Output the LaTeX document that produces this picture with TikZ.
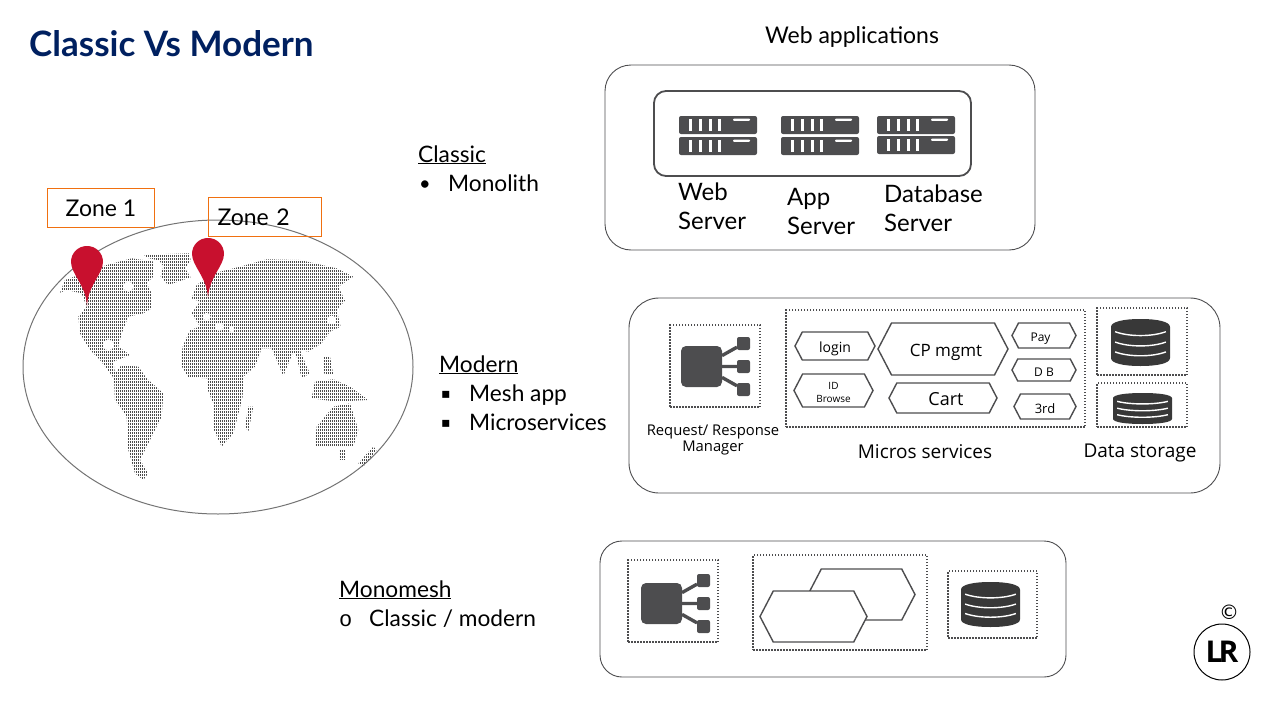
\documentclass[tikz,border=0pt]{standalone}
\usepackage{fontspec}
\setmainfont{Lato}
\newfontfamily\osfont{Open Sans}
\newfontfamily\dvfont{DejaVu Sans}
\newfontfamily\lmfont{Liberation Mono}
\usetikzlibrary{positioning,shapes.geometric,shapes.symbols}
\definecolor{navy}{HTML}{002060}
\definecolor{ink}{HTML}{4D4D4F}
\definecolor{zonec}{HTML}{F07010}
\definecolor{pinred}{HTML}{C8102E}
\newcommand{\sz}[1]{\fontsize{#1}{#1}\selectfont}
\tikzstyle{lbl}=[anchor=base west,inner sep=0pt,font=\sz{22.7}]
\tikzstyle{osl}=[inner sep=0pt,align=center,font=\osfont\sz{19}]
\tikzstyle{panel}=[draw=ink,line width=.9pt,rounded corners=26pt,anchor=north west,inner sep=0pt,outer sep=0pt]
\tikzstyle{dotbox}=[draw=ink,line width=1.5pt,dash pattern=on 1.5pt off 1.5pt,anchor=north west,inner sep=0pt,outer sep=0pt]
\tikzstyle{zonebox}=[draw=zonec,line width=1.2pt,anchor=north west,inner sep=0pt,outer sep=0pt,font=\sz{23}]
\tikzstyle{hexa}=[draw=ink,line width=1.4pt,fill=white,signal,signal to=east and west,signal pointer angle=125,inner sep=0pt,outer sep=0pt]
\tikzstyle{rack}=[fill=ink,rounded corners=2pt,anchor=north west,inner sep=0pt,outer sep=0pt,minimum width=78pt,minimum height=18pt]
\tikzstyle{meshbody}=[fill=ink,rounded corners=5pt,anchor=north west,inner sep=0pt,outer sep=0pt,minimum size=41pt]
\tikzstyle{meshleaf}=[fill=ink,rounded corners=2pt,inner sep=0pt,outer sep=0pt,minimum size=13pt]
\tikzstyle{mapdots}=[draw=black!70,line width=1.8pt,dash pattern=on 1.2pt off .8pt]
% size of a hexagon: name, text, centre, width, height, font size
\newcommand{\newHex}[6]{\node[hexa,minimum width=#4pt,minimum height=#5pt,font=\osfont\sz{#6},align=center,text height=.75em,text depth=0pt](#1) at (#3){\raisebox{-.22em}{#2}};}
\newcommand{\newRack}[3]{\node[rack](#1) at (#2,#3){};
  \foreach \s in {10,20,30,39}{\fill[white] ([shift={(\s pt,-3pt)}]#1.north west) rectangle ++(3,12);}
  \fill[white,rounded corners=1pt] ([shift={(54pt,-2.5pt)}]#1.north west) rectangle ++(17,2.4);}
\newcommand{\newMesh}[3]{\node[meshbody](#1b) at (#2,#3){};
  \node[meshleaf,right=21.5pt of #1b.east,yshift=23pt,anchor=center](#1t){};
  \node[meshleaf,right=21.5pt of #1b.east,anchor=center](#1m){};
  \node[meshleaf,right=21.5pt of #1b.east,yshift=-23pt,anchor=center](#1u){};
  \draw[ink,line width=3.4pt] (#1b.28) -- (#1t) (#1b.east) -- (#1m) (#1b.-28) -- (#1u);}
\newcommand{\newDisk}[4]{\begin{scope}[shift={(#1,#2)},x=#3pt,y=-#4pt]
  \fill[black!78] (0,.17) .. controls (0,.06) and (.2,0) .. (.5,0) .. controls (.8,0) and (1,.06) .. (1,.17)
    -- (1,.83) .. controls (1,.94) and (.8,1) .. (.5,1) .. controls (.2,1) and (0,.94) .. (0,.83) -- cycle;
  \foreach \d in {.27,.49,.7}{\draw[white,line width=1.4pt] (.07,\d) .. controls (.3,\d+.11) and (.7,\d+.11) .. (.93,\d);}
  \end{scope}}
\newcommand{\newPin}[2]{\fill[pinred,shift={(#1,#2)}] (0,44) .. controls (-1,23) and (-16,12) .. (-16,0)
  .. controls (-16,-9) and (-9,-16) .. (0,-16) .. controls (9,-16) and (16,-9) .. (16,0)
  .. controls (16,12) and (1,23) .. (0,44) -- cycle;}
\begin{document}
\begin{tikzpicture}[x=1pt,y=-1pt]
  \useasboundingbox (0,0) rectangle (1280,720);
  \node[anchor=base west,inner sep=0pt,font=\bfseries\sz{35},text=navy](title) at (29,56){Classic Vs Modern};
  % map
  \node[ellipse,draw=black!55,line width=1pt,minimum width=390pt,minimum height=294pt,inner sep=0pt](globe) at (218,367){};
  \begin{scope}[shift={(0,170)},x=.3333pt,y=-.3333pt,even odd rule]
    \clip
      (180,368) -- (195,330) -- (250,310) -- (320,285) -- (395,265) -- (462,275) -- (460,320) -- (440,340) -- (455,370)
        -- (455,415) -- (430,430) -- (385,440) -- (365,490) -- (355,530) -- (390,555) -- (340,575) -- (345,610)
        -- (365,585) -- (415,590) -- (440,625) -- (490,670) -- (485,740) -- (455,800) -- (420,870) -- (445,910) -- (430,930)
        -- (405,910) -- (385,840) -- (380,740) -- (345,690) -- (342,625) -- (300,570) -- (270,540) -- (240,490) -- (235,440)
        -- (260,410) -- (245,370) -- (200,360) -- cycle
      (385,350) circle[radius=16]
      (325,525) circle[radius=17]
      (432,254) -- (568,250) -- (572,272) -- (555,295) -- (572,322) -- (505,345) -- (482,320) -- (490,288) -- (478,272) -- (440,263) -- cycle
      (575,385) -- (590,345) -- (640,310) -- (720,290) -- (800,268) -- (900,270) -- (1010,295) -- (1060,320) -- (1015,350)
        -- (1035,392) -- (1010,420) -- (1022,470) -- (990,485) -- (965,520) -- (925,545) -- (900,540) -- (920,590) -- (930,610)
        -- (905,625) -- (890,560) -- (880,545) -- (850,618) -- (815,535) -- (785,535) -- (765,590) -- (730,620) -- (728,680)
        -- (700,790) -- (665,830) -- (642,780) -- (640,700) -- (625,665) -- (622,625) -- (565,622) -- (543,585) -- (548,530)
        -- (570,480) -- (600,470) -- (575,430) -- (600,395) -- cycle
      (620,440) circle[radius=12]
      (658,470) circle[radius=13]
      (695,478) circle[radius=9]
      (995,450) circle[radius=14]
      (745,710) -- (760,710) -- (745,785) -- (735,770) -- cycle
      (950,770) -- (1000,710) -- (1050,700) -- (1075,780) -- (1060,830) -- (1030,830) -- (945,830) -- cycle
      (1020,840) -- (1035,840) -- (1035,870) -- (1020,870) -- cycle
      (1075,880) -- (1120,830) -- (1130,840) -- (1090,890) -- cycle
      (945,635) -- (1000,628) -- (1050,650) -- (1105,690) -- (1010,695) -- (935,685) -- cycle
      (970,560) -- (990,560) -- (1000,615) -- (970,610) -- cycle;
    \foreach \r in {240,249,...,942}{\draw[mapdots] (150,\r) -- (1150,\r);}
  \end{scope}
  \newPin{87}{262}
  \newPin{208}{254}
  \node[zonebox,minimum width=107pt,minimum height=39pt](z1) at (47.5,188.5){Zone 1};
  \node[zonebox,minimum width=113pt,minimum height=39pt,text width=105pt,align=left](z2) at (208.5,197.5){\hspace*{5pt}Zone 2};
  % left labels
  \node[lbl](classic) at (418,162){\underline{Classic}};
  \node[lbl,font=\sz{20}](b1) at (419,190){•};
  \node[lbl](mono) at (448,191){Monolith};
  \node[lbl](modern) at (439,372){\underline{Modern}};
  \node[lbl,font=\dvfont\sz{14}](b2) at (441,398){▪};
  \node[lbl](mesh) at (469,401){Mesh app};
  \node[lbl,font=\dvfont\sz{14}](b3) at (441,427){▪};
  \node[lbl](micro) at (469,430){Microservices};
  \node[lbl](monom) at (339,597){\underline{Monomesh}};
  \node[lbl,font=\lmfont\sz{22}](b4) at (339,626){o};
  \node[lbl](cm) at (369,626){Classic / modern};
  % classic
  \node[anchor=base,inner sep=0pt,font=\sz{23}](webapp) at (852,43){Web applications};
  \node[panel,minimum width=430pt,minimum height=185pt](pc) at (605,65){};
  \node[panel,draw=ink,line width=1.8pt,rounded corners=12pt,minimum width=317pt,minimum height=85pt](srv) at (654,91){};
  \newRack{r1}{679}{116}
  \newRack{r2}{679}{137}
  \newRack{r3}{781}{116}
  \newRack{r4}{781}{137}
  \newRack{r5}{877}{116}
  \newRack{r6}{877}{136}
  \node[lbl,align=left,font=\fontsize{24}{29}\selectfont,anchor=north west](lweb) at (678,183){Web\\Server};
  \node[lbl,align=left,font=\fontsize{24}{29}\selectfont,anchor=north west](lapp) at (787,188){App\\Server};
  \node[lbl,align=left,font=\fontsize{24}{29}\selectfont,anchor=north west](ldb) at (884,185){Database\\Server};
  % modern
  \node[panel,rounded corners=30pt,minimum width=591pt,minimum height=195pt](pm) at (629,298){};
  \node[dotbox,minimum width=90pt,minimum height=82pt](d1) at (670,325){};
  \newMesh{m1}{681}{346}
  \node[dotbox,minimum width=299pt,minimum height=117pt](d2) at (786,310){};
  \newHex{login}{login}{835,346}{80}{28}{14}
  \newHex{idb}{}{833.5,390.5}{79}{33}{10}
  \node[inner sep=0pt,align=center,font=\osfont\sz{10}](idt) at ([yshift=-2pt]idb.center){ID\\[3pt]Browse};
  \newHex{cp}{\hspace*{6pt}CP mgmt}{943,349}{130}{52}{17}
  \newHex{cart}{\hspace*{6pt}Cart}{943,398}{108}{30}{18}
  \newHex{pay}{Pay\hspace*{7pt}}{1044,335.5}{64}{25}{12}
  \newHex{dbh}{D B}{1044,370}{64}{22}{12}
  \newHex{third}{3rd}{1045,406.5}{62}{25}{13}
  \node[dotbox,minimum width=90pt,minimum height=67pt](d3) at (1097,308){};
  \newDisk{1111}{319}{59}{47}
  \node[dotbox,minimum width=90pt,minimum height=44pt](d4) at (1097,383){};
  \newDisk{1113}{393}{59}{31}
  \node[osl,font=\osfont\fontsize{14.8}{16}\selectfont](lrr) at (713,440){Request/ Response\\Manager};
  \node[osl](lms) at (925,452){Micros services};
  \node[osl](lds) at (1140,453){Data storage};
  % monomesh
  \node[panel,rounded corners=22pt,minimum width=466pt,minimum height=136pt](pb) at (600,541){};
  \node[dotbox,minimum width=90pt,minimum height=82pt](d5) at (628,560){};
  \newMesh{m2}{641}{583}
  \node[dotbox,minimum width=174pt,minimum height=95pt](d6) at (753,555){};
  \newHex{hback}{}{861.5,594.5}{107}{51}{10}
  \newHex{hfront}{}{813.5,616.5}{107}{51}{10}
  \node[dotbox,minimum width=89pt,minimum height=67pt](d7) at (948,571){};
  \newDisk{961}{582}{59}{45}
  % logo
  \node[inner sep=0pt,font=\dvfont\sz{20}](copy) at (1229,612){©};
  \node[circle,draw=black,line width=1pt,minimum size=56pt,inner sep=0pt,font=\osfont\bfseries\sz{30}](logo) at (1222,652){L\kern-4pt R};
\end{tikzpicture}
\end{document}
